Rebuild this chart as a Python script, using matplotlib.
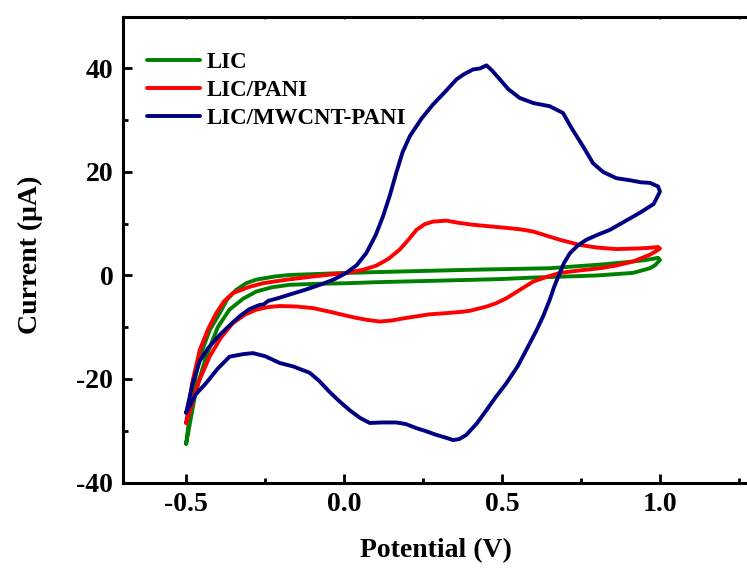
import matplotlib
matplotlib.use("Agg")
import matplotlib.pyplot as plt
from matplotlib.ticker import MultipleLocator

# ---- data (Potential V, Current uA) ----
lic_x = [-0.5, -0.48, -0.457, -0.425, -0.394, -0.37, -0.342, -0.31, -0.278, -0.22, -0.173, -0.08, 0.007,
         0.2, 0.4, 0.651, 0.81, 0.9, 0.957, 0.994,
         1.0, 0.985, 0.968, 0.915, 0.8, 0.704, 0.6, 0.493, 0.3, 0.1, 0.007, -0.08, -0.173, -0.23,
         -0.278, -0.32, -0.363, -0.40, -0.437, -0.47, -0.5]
lic_y = [-32.5, -22.5, -15.7, -10.5, -7.3, -4.6, -2.8, -1.5, -0.8, -0.2, 0.1, 0.3, 0.5,
         0.8, 1.1, 1.4, 2.1, 2.6, 3.0, 3.4,
         3.0, 2.0, 1.4, 0.5, 0.0, -0.2, -0.4, -0.7, -1.0, -1.3, -1.5, -1.6, -1.8, -2.3,
         -3.1, -4.5, -6.6, -10.0, -15.7, -22.5, -32.5]

pani_x = [-0.5, -0.48, -0.457, -0.43, -0.405, -0.38, -0.352, -0.30, -0.257, -0.18, -0.099, -0.04, 0.007,
          0.06, 0.102, 0.14, 0.176, 0.205, 0.229, 0.255, 0.281, 0.324, 0.36, 0.408, 0.46, 0.514, 0.56,
          0.598, 0.651, 0.683, 0.746, 0.80, 0.862, 0.92, 0.957, 0.994,
          1.0, 0.985, 0.968, 0.915, 0.86, 0.810, 0.75, 0.683, 0.64, 0.598, 0.556, 0.514, 0.48, 0.451,
          0.40, 0.376, 0.32, 0.271, 0.197, 0.15, 0.113, 0.075, 0.039, 0.017, -0.046, -0.099, -0.15,
          -0.204, -0.24, -0.278, -0.315, -0.352, -0.39, -0.426, -0.46, -0.5]
pani_y = [-28.5, -20.5, -14.4, -10.3, -7.3, -5.0, -3.4, -2.2, -1.5, -0.8, -0.2, 0.2, 0.5,
          1.1, 1.9, 3.2, 5.0, 7.0, 8.8, 9.9, 10.4, 10.6, 10.2, 9.8, 9.5, 9.2, 8.9,
          8.5, 7.5, 6.9, 5.9, 5.4, 5.1, 5.2, 5.3, 5.5,
          5.2, 4.6, 4.0, 2.7, 1.9, 1.4, 1.0, 0.5, -0.3, -1.2, -2.8, -4.4, -5.4, -6.0,
          -6.8, -7.0, -7.3, -7.5, -8.2, -8.7, -8.9, -8.6, -8.2, -7.9, -7.0, -6.3, -6.0,
          -5.9, -6.1, -6.6, -7.6, -9.2, -12.0, -15.7, -20.5, -28.5]

mw_x = [-0.5, -0.48, -0.457, -0.43, -0.394, -0.36, -0.331, -0.30, -0.268, -0.255, -0.24, -0.21, -0.173,
        -0.12, -0.067, -0.03, 0.007, 0.04, 0.070, 0.10, 0.123, 0.145, 0.165, 0.185, 0.208, 0.245, 0.281,
        0.32, 0.356, 0.38, 0.408, 0.43, 0.451, 0.47, 0.493, 0.52, 0.556, 0.60, 0.651, 0.693, 0.72,
        0.757, 0.788, 0.82, 0.862, 0.905, 0.94, 0.968, 0.994,
        1.0, 0.98, 0.936, 0.89, 0.841, 0.80, 0.767, 0.74, 0.715, 0.697, 0.683, 0.665, 0.651, 0.63,
        0.61, 0.588, 0.55, 0.514, 0.48, 0.451, 0.42, 0.387, 0.365, 0.345, 0.32, 0.292, 0.26, 0.229,
        0.195, 0.165, 0.12, 0.081, 0.05, 0.017, -0.015, -0.046, -0.08, -0.109, -0.16, -0.204, -0.25,
        -0.289, -0.32, -0.363, -0.40, -0.437, -0.47, -0.5]
mw_y = [-26.5, -21.0, -16.5, -14.0, -11.5, -9.5, -7.9, -6.5, -5.7, -5.6, -4.9, -4.4, -3.7,
        -2.7, -1.6, -0.7, 0.5, 2.0, 4.3, 7.8, 11.4, 15.5, 19.8, 23.8, 26.9, 30.3, 33.0,
        35.5, 37.9, 38.9, 39.8, 40.0, 40.6, 39.5, 37.9, 36.0, 34.3, 33.3, 32.7, 31.4, 28.5,
        24.9, 21.7, 20.0, 18.8, 18.4, 18.0, 17.9, 17.2,
        16.2, 13.8, 12.1, 10.5, 8.8, 7.8, 6.9, 5.8, 4.3, 2.5, 0.5, -2.2, -4.7, -7.9,
        -10.5, -13.1, -17.5, -20.8, -23.5, -26.0, -28.6, -30.8, -31.6, -31.8, -31.3, -30.8, -30.1, -29.5,
        -28.7, -28.4, -28.4, -28.5, -27.5, -26.0, -24.3, -22.5, -20.3, -18.8, -17.6, -16.9, -15.6,
        -15.0, -15.2, -15.7, -18.0, -20.8, -23.0, -26.5]

labels = ["LIC", "LIC/PANI", "LIC/MWCNT-PANI"]
colors = ["#008000", "#ff0000", "#000080"]
x_ticks = [-0.5, 0.0, 0.5, 1.0]
y_ticks = [-40, -20, 0, 20, 40]

plt.rcParams['font.family'] = ['Liberation Serif', 'DejaVu Serif']
plt.rcParams['font.weight'] = 'bold'

W, H = 747, 569
fig = plt.figure(figsize=(W / 100, H / 100), dpi=100)
left, right, bottom, top = 123, 754.7, 482.5, 16.7
ax = fig.add_axes([left / W, (H - bottom) / H, (right - left) / W, (bottom - top) / H])

for xs, ys, c, lab in zip([lic_x, pani_x, mw_x], [lic_y, pani_y, mw_y], colors, labels):
    ax.plot(xs, ys, color=c, lw=2.8, label=lab, solid_joinstyle='round', solid_capstyle='round')

ax.set_xlim(-0.7, 1.3)
ax.set_ylim(-40, 50)
ax.set_xticks(x_ticks)
ax.set_xticklabels([f"{v:.1f}" for v in x_ticks])
ax.set_yticks(y_ticks)
ax.set_yticklabels([f"{v:d}" for v in y_ticks])
ax.xaxis.set_minor_locator(MultipleLocator(0.25))
ax.yaxis.set_minor_locator(MultipleLocator(10))
ax.tick_params(which='major', direction='in', length=6.5, width=2, labelsize=20, pad=7)
ax.tick_params(which='minor', direction='in', length=3.5, width=2)
ax.tick_params(axis='x', which='both', top=True)
for t in ax.xaxis.get_major_ticks() + ax.xaxis.get_minor_ticks():
    t.tick2line.set_markersize(1.5)
    t.tick2line.set_markeredgewidth(1)
    t.tick2line.set_color('#555555')
for s in ax.spines.values():
    s.set_linewidth(2.2)
for lab in ax.get_xticklabels() + ax.get_yticklabels():
    lab.set_fontweight('bold')

ax.set_xlabel("Potential (V)", fontsize=20, fontweight='bold')
ax.set_ylabel("Current (μA)", fontsize=20, fontweight='bold')
# place axis labels by figure pixel positions (converted to axes fractions)
ax.xaxis.set_label_coords((436 - left) / (right - left), -(551 - bottom) / (bottom - top))
ax.xaxis.label.set_verticalalignment('center')
ax.yaxis.set_label_coords(-(left - 30) / (right - left), (bottom - 255) / (bottom - top))
ax.yaxis.label.set_verticalalignment('center')

ax.legend(loc='upper left', bbox_to_anchor=(147 / W, 1 - 52 / H), bbox_transform=fig.transFigure,
          frameon=False, handlelength=2.3, handletextpad=0.3, labelspacing=0.31,
          borderpad=0, borderaxespad=0, prop={'weight': 'bold', 'size': 16.5})

fig.savefig("out.png", dpi=100)
